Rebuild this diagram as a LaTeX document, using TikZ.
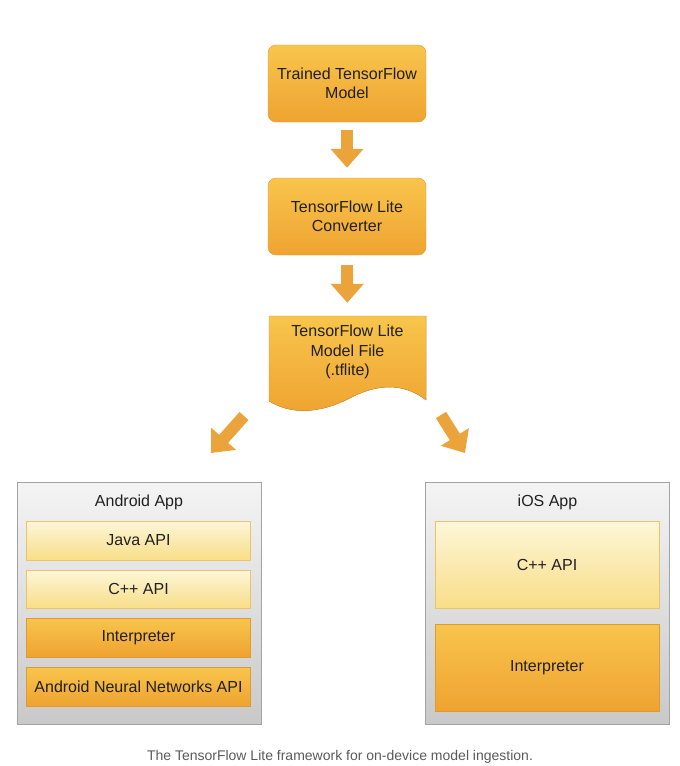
\documentclass[tikz,border=0pt]{standalone}
\usepackage{fontspec}
\setmainfont{Liberation Sans}
\usetikzlibrary{arrows.meta}

\definecolor{flowtop}{HTML}{F8C54C}
\definecolor{flowbot}{HTML}{EFA331}
\definecolor{flowline}{HTML}{DE9B34}
\definecolor{lighttop}{HTML}{FDF6D8}
\definecolor{lightbot}{HTML}{F8DE88}
\definecolor{lightline}{HTML}{E8C56A}
\definecolor{apptop}{HTML}{F4F4F4}
\definecolor{appbot}{HTML}{C9C9C9}
\definecolor{appline}{HTML}{A3A3A3}
\definecolor{arrowfill}{HTML}{EBA43B}
\definecolor{inktext}{HTML}{202020}
\definecolor{captext}{HTML}{5A5A5A}

\begin{document}
\begin{tikzpicture}[x=1pt, y=-1pt,
	every node/.style={text=inktext, font=\fontsize{16}{19.5}\selectfont, align=center},
	flowbox/.style={draw=flowline, top color=flowtop, bottom color=flowbot, rounded corners=8pt, minimum width=158pt, minimum height=77pt, inner sep=0pt},
	appbox/.style={draw=appline, top color=apptop, bottom color=appbot, minimum width=244pt, minimum height=242pt, inner sep=0pt},
	lightbox/.style={draw=lightline, top color=lighttop, bottom color=lightbot, minimum width=224pt, inner sep=0pt},
	corebox/.style={draw=flowline, top color=flowtop, bottom color=flowbot, minimum width=224pt, inner sep=0pt},
	fatarrow/.style={color=arrowfill, line width=12pt, -{Triangle[width=32pt, length=19pt]}}
	]

	\useasboundingbox (0,0) rectangle (680,766);

	% flow from model to file
	\node[flowbox] (model) at (347,83.5)  {Trained TensorFlow\\Model};
	\node[flowbox] (conv)  at (347,216.5) {TensorFlow Lite\\Converter};

	\fill[draw=flowline, top color=flowtop, bottom color=flowbot]
		(269,316) -- (426,316) -- (426,400)
		.. controls (408,386) and (384,381) .. (352,397)
		.. controls (318,415) and (290,414) .. (269,401) -- cycle;
	\node[minimum width=157pt, minimum height=72pt, inner sep=0pt] (tflite) at (347.5,352) {TensorFlow Lite\\Model File\\(.tflite)};

	\path[fatarrow, shorten <=8pt, shorten >=10pt] (model) edge (conv);
	\path[fatarrow, shorten <=10pt, shorten >=13pt] (conv) edge (tflite);

	% the two apps
	\node[appbox] (android) at (139,603)   {};
	\node[appbox] (ios)     at (547.5,603) {};
	\node (andtitle) at (139,502)   {Android App};
	\node (iostitle) at (547.5,502) {iOS App};

	\node[lightbox, minimum height=39pt] (java)   at (138.5,540.5) {Java API};
	\node[lightbox, minimum height=38pt] (cppa)   at (138.5,589)   {C++ API};
	\node[corebox, minimum height=39pt]  (interpa) at (138.5,637.5) {Interpreter};
	\node[corebox, minimum height=39pt]  (nnapi)  at (138.5,686.5) {Android Neural Networks API};

	\node[lightbox, minimum height=87pt] (cppi)    at (547,564.5) {C++ API};
	\node[corebox, minimum height=87pt]  (interpi) at (547,667.5) {Interpreter};

	\coordinate (lfrom) at (244,416);
	\coordinate (lto)   at (211,453);
	\coordinate (rfrom) at (441,415);
	\coordinate (rto)   at (465,453);
	\path[fatarrow] (lfrom) edge (lto);
	\path[fatarrow] (rfrom) edge (rto);

	\node[text=captext, font=\fontsize{14}{16}\selectfont] (caption) at (340,757) {The TensorFlow Lite framework for on-device model ingestion.};

\end{tikzpicture}
\end{document}
